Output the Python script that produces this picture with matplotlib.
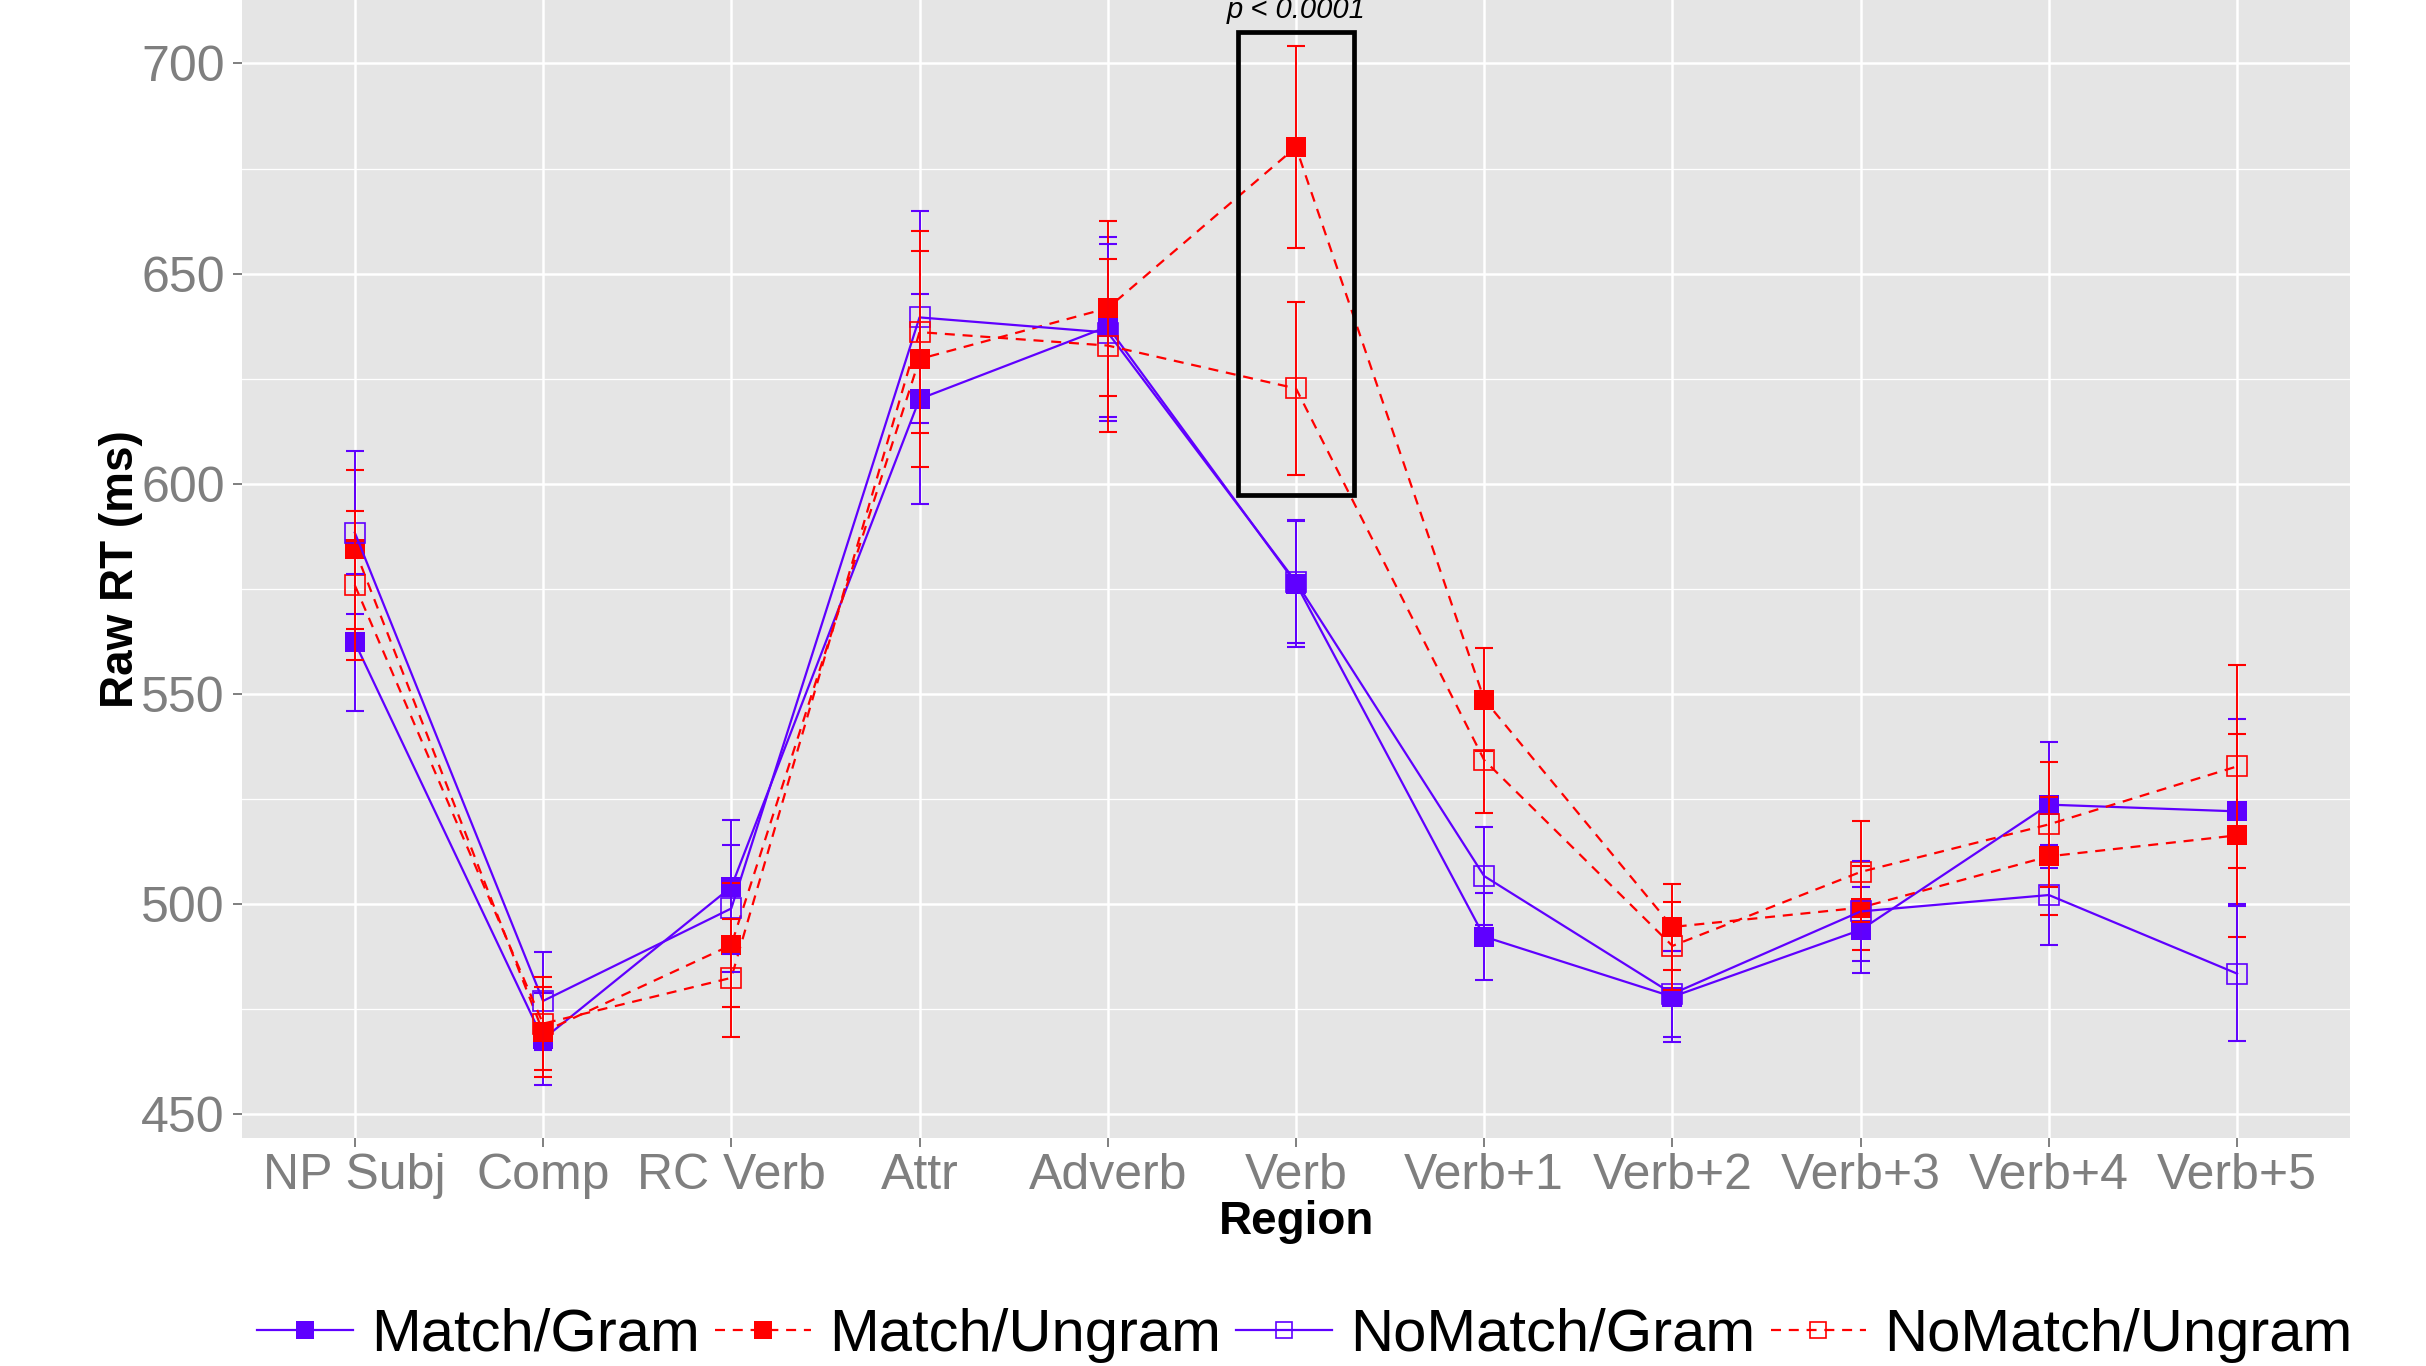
import matplotlib
matplotlib.use("Agg")
import matplotlib.pyplot as plt
from matplotlib.patches import Rectangle

regions = ["NP Subj", "Comp", "RC Verb", "Attr", "Adverb", "Verb",
           "Verb+1", "Verb+2", "Verb+3", "Verb+4", "Verb+5"]
conditions = ["Match/Gram", "Match/Ungram", "NoMatch/Gram", "NoMatch/Ungram"]

# mean raw RTs (ms) per region
match_gram = [562.3, 467.9, 504.1, 620.2, 637.4, 576.3, 492.3, 478.0, 493.9, 523.7, 522.1]
match_ungram = [584.4, 469.6, 490.3, 629.7, 641.8, 680.1, 548.7, 494.6, 499.2, 511.4, 516.4]
nomatch_gram = [588.4, 477.0, 499.0, 639.6, 636.0, 576.7, 506.7, 478.7, 498.3, 502.2, 483.5]
nomatch_ungram = [575.9, 471.6, 482.5, 636.1, 632.9, 622.7, 534.3, 490.1, 507.7, 519.0, 532.8]

# error bar half widths (ms)
match_gram_err = [16.3, 11.0, 15.9, 24.9, 21.4, 15.0, 10.3, 10.8, 10.3, 15.0, 22.0]
match_ungram_err = [19.0, 10.7, 14.8, 25.7, 20.8, 24.0, 12.3, 10.2, 10.0, 14.0, 24.2]
nomatch_gram_err = [19.4, 11.7, 15.1, 25.2, 21.0, 14.5, 11.7, 10.2, 11.9, 12.0, 16.0]
nomatch_ungram_err = [17.7, 11.0, 14.0, 24.0, 20.5, 20.5, 12.6, 10.5, 12.0, 14.8, 24.2]

p_label = "p < 0.0001"

BLUE = "#5f00ff"
RED = "#ff0000"

means = [match_gram, match_ungram, nomatch_gram, nomatch_ungram]
errs = [match_gram_err, match_ungram_err, nomatch_gram_err, nomatch_ungram_err]
colors = [BLUE, RED, BLUE, RED]
styles = ["-", (0, (4.5, 3.5)), "-", (0, (4.5, 3.5))]
filled = [True, True, False, False]

plt.rcParams["font.family"] = ["Liberation Sans", "DejaVu Sans"]

fig = plt.figure(figsize=(24.26, 13.66), dpi=100)
ax = fig.add_axes([0.0997, 0.1669, 0.869, 0.8331])
ax.set_facecolor("#e5e5e5")
for s in ax.spines.values():
    s.set_visible(False)

x = list(range(len(regions)))
handles = []
for m, e, c, ls, f, name in zip(means, errs, colors, styles, filled, conditions):
    h, = ax.plot(x, m, color=c, linestyle=ls, linewidth=1.6, marker="s",
                 markersize=14.5 if f else 14,
                 markerfacecolor=c if f else "none",
                 markeredgecolor=c, markeredgewidth=0 if f else 1.2,
                 label=name, zorder=3)
    handles.append(h)
for m, e, c in zip(means, errs, colors):
    ax.errorbar(x, m, yerr=e, fmt="none", ecolor=c, elinewidth=1.4,
                capsize=6.8, capthick=1.5, zorder=4)

# highlight box around the Verb region
ax.add_patch(Rectangle((4.694, 597.4), 0.612, 110.2, fill=False,
                       edgecolor="black", linewidth=3.4, zorder=5,
                       clip_on=False))
ax.text(5, 710.8, p_label, style="italic", fontsize=21, ha="center",
        va="baseline", zorder=6, clip_on=False)

ax.set_xlim(-0.6, 10.6)
ax.set_ylim(444.4, 715.1)
ax.set_xticks(x)
ax.set_xticklabels(regions)
ax.set_yticks([450, 500, 550, 600, 650, 700])
ax.set_yticks([475, 525, 575, 625, 675], minor=True)
ax.grid(which="major", color="white", linewidth=1.8, zorder=0)
ax.grid(which="minor", axis="y", color="white", linewidth=0.9, zorder=0)
ax.set_axisbelow(True)
ax.tick_params(axis="both", which="major", labelsize=36, colors="#7f7f7f",
               length=6.5, width=1.4)
ax.tick_params(axis="y", which="minor", length=0)
ax.tick_params(axis="y", pad=5.8)
ax.tick_params(axis="x", pad=4.5)
for lbl in ax.get_xticklabels() + ax.get_yticklabels():
    lbl.set_color("#7f7f7f")

fig.text(0.0499, 0.583, "Raw RT (ms)", rotation=90, fontsize=33,
         fontweight="bold", ha="center", va="center")
fig.text(0.5343, 0.0964, "Region", fontsize=33, fontweight="bold",
         ha="center", va="baseline")

fig.legend(handles=handles, labels=conditions, loc="center",
           bbox_to_anchor=(0.538, 0.0225), ncol=4, frameon=False,
           fontsize=43, handlelength=1.6, handletextpad=0.31,
           columnspacing=0.25, borderpad=0, markerscale=0.85)

fig.savefig("out.png", dpi=100)
